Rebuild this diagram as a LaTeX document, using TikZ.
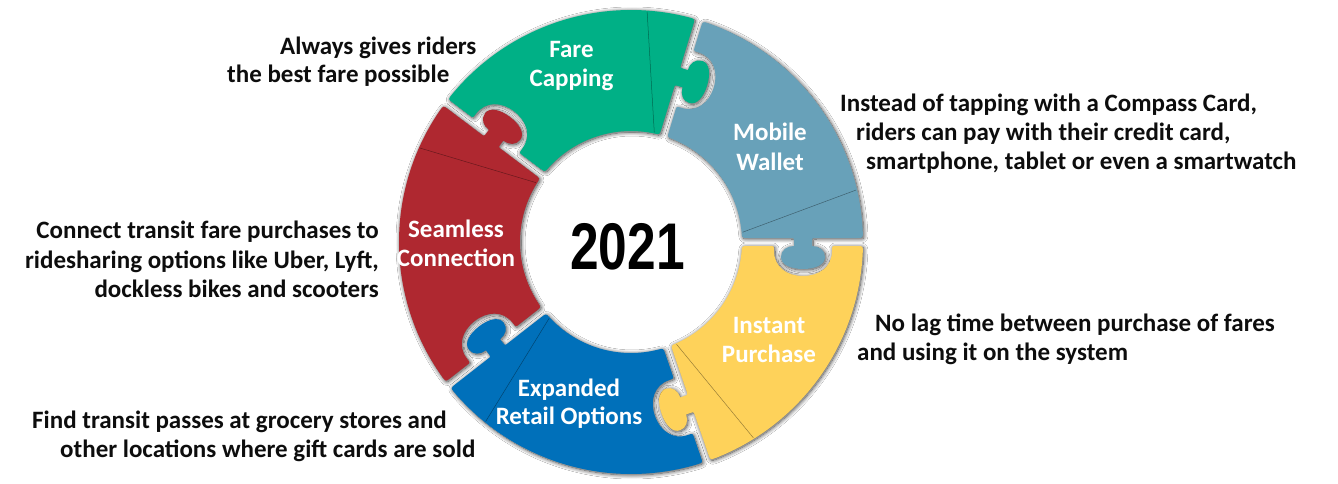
\documentclass[tikz,border=0pt]{standalone}
\usepackage{fontspec}
\usepackage{graphicx}
\setmainfont{Carlito}
\newfontfamily\yearfont{Liberation Sans}
\usetikzlibrary{calc,shadows.blur}
\definecolor{fcgreen}{RGB}{0,176,134}
\definecolor{mwblue}{RGB}{104,161,185}
\definecolor{ipyellow}{RGB}{254,210,90}
\definecolor{erblue}{RGB}{0,112,186}
\definecolor{scred}{RGB}{175,40,48}
\tikzset{
  piecestyle/.style={blur shadow={shadow xshift=1pt, shadow yshift=-1pt, shadow blur radius=4pt, shadow opacity=75, shadow blur steps=12}},
  foldline/.style={draw=black, opacity=0.4, line width=0.5pt},
  lbl/.style={font=\fontsize{25}{29}\selectfont\bfseries, inner sep=0pt, text=black!95},
  plbl/.style={lbl, text=white}
}
% #1 rotation (clockwise end of the piece), #2 angular span, #3 colour, #4 name
\newcommand\puzzlepiece[4]{%
\begin{scope}[shift={(C)},rotate=#1]
 \begin{scope}[rotate=#2]
  \coordinate (#4-i) at (110.93,-4);
  \coordinate (#4-j) at (117,-4);
  \coordinate (#4-k) at (139,-4);
  \coordinate (#4-k1) at (143,-4);
  \coordinate (#4-k2) at (143,-9);
  \coordinate (#4-k3) at (143,-25);
  \coordinate (#4-k4) at (156,-34);
  \coordinate (#4-t) at (172,-34);
  \coordinate (#4-m4) at (188,-34);
  \coordinate (#4-m3) at (201,-25);
  \coordinate (#4-m2) at (201,-9);
  \coordinate (#4-m1) at (201,-4);
  \coordinate (#4-m) at (205,-4);
  \coordinate (#4-n) at (226,-4);
  \coordinate (#4-o) at (231.97,-4);
 \end{scope}
 \fill[#3, piecestyle] (226,4) -- (185,4) .. controls (181,4) .. (181,0) -- (181,-4)
  .. controls (188,-4) and (194,-8) .. (194,-15)
  .. controls (194,-23) and (184,-27) .. (172,-27)
  .. controls (160,-27) and (150,-23) .. (150,-15)
  .. controls (150,-8) and (156,-4) .. (163,-4)
  -- (163,0) .. controls (163,4) .. (159,4)
  -- (117,4) .. controls (110.93,4) .. (5.16:111)
  arc[start angle=5.16, end angle=#2-5.16, radius=111]
  .. controls (#4-i) .. (#4-j) -- (#4-k)
  .. controls (#4-k1) .. (#4-k2)
  .. controls (#4-k3) and (#4-k4) .. (#4-t)
  .. controls (#4-m4) and (#4-m3) .. (#4-m2)
  .. controls (#4-m1) .. (#4-m)
  -- (#4-n) .. controls (#4-o) .. (#2-2.47:232)
  arc[start angle=#2-2.47, end angle=2.47, radius=232]
  .. controls (231.97,4) .. (226,4) -- cycle;
 \draw[foldline] (5:112) -- (13:231);
\end{scope}}

\begin{document}
\begin{tikzpicture}[x=1pt,y=1pt]
\useasboundingbox (0,0) rectangle (1338,483);
\fill[white] (0,0) rectangle (1338,483);
\coordinate (C) at (631,241);

\puzzlepiece{73}{70}{fcgreen}{fare}
\puzzlepiece{0}{73}{mwblue}{mobile}
\puzzlepiece{-71}{71}{ipyellow}{instant}
\puzzlepiece{-142}{71}{erblue}{expanded}
\puzzlepiece{143}{75}{scred}{seamless}

% year
\node[inner sep=0pt, anchor=base] (year) at (627.5,214) {\scalebox{0.78}[1]{\yearfont\bfseries\fontsize{66}{66}\selectfont 2021}};

% labels on the pieces
\node[plbl, anchor=base] (fare1) at (571.5,425) {Fare};
\node[plbl, anchor=base] (fare2) at (571.5,396) {Capping};
\node[plbl, anchor=base] (mob1) at (770,343) {Mobile};
\node[plbl, anchor=base] (mob2) at (770,313) {Wallet};
\node[plbl, anchor=base] (sea1) at (456,246) {Seamless};
\node[plbl, anchor=base] (sea2) at (456,217) {Connection};
\node[plbl, anchor=base] (ins1) at (769,150) {Instant};
\node[plbl, anchor=base] (ins2) at (769,121) {Purchase};
\node[plbl, anchor=base] (exp1) at (569,87) {Expanded};
\node[plbl, anchor=base] (exp2) at (569,59) {Retail Options};

% descriptions
\node[lbl, anchor=base west] (d1a) at (280,428) {Always gives riders};
\node[lbl, anchor=base west] (d1b) at (227,400) {the best fare possible};

\node[lbl, anchor=base west] (d2a) at (840,371) {Instead of tapping with a Compass Card,};
\node[lbl, anchor=base west] (d2b) at (856,342) {riders can pay with their credit card,};
\node[lbl, anchor=base west] (d2c) at (866,314) {smartphone, tablet or even a smartwatch};

\node[lbl, anchor=base east] (d3a) at (379,245) {Connect transit fare purchases to};
\node[lbl, anchor=base east] (d3b) at (379,215) {ridesharing options like Uber, Lyft,};
\node[lbl, anchor=base east] (d3c) at (379,186) {dockless bikes and scooters};

\node[lbl, anchor=base west] (d4a) at (875,152) {No lag time between purchase of fares};
\node[lbl, anchor=base west] (d4b) at (857,123) {and using it on the system};

\node[lbl, anchor=base west] (d5a) at (32,55) {Find transit passes at grocery stores and};
\node[lbl, anchor=base west] (d5b) at (60,26) {other locations where gift cards are sold};
\end{tikzpicture}
\end{document}
